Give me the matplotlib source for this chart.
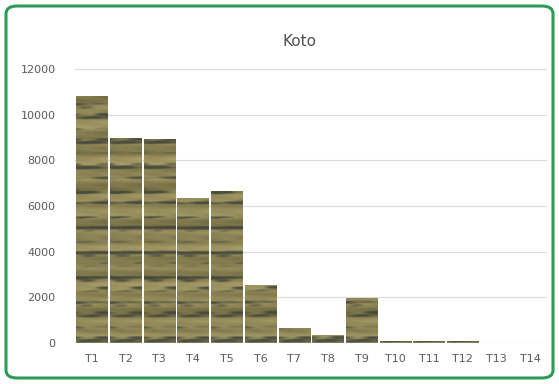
import numpy as np
import matplotlib
matplotlib.use("Agg")
import matplotlib.pyplot as plt
from matplotlib.patches import FancyBboxPatch

# данные с графика
categories = ["T1", "T2", "T3", "T4", "T5", "T6", "T7", "T8", "T9",
              "T10", "T11", "T12", "T13", "T14"]
values = [10800, 9000, 8950, 6350, 6650, 2550, 650, 330, 1950,
          100, 100, 100, 0, 0]
y_ticks = [0, 2000, 4000, 6000, 8000, 10000, 12000]

fig = plt.figure(figsize=(5.59, 3.84), dpi=100)
ax = fig.add_axes([75 / 559, 1 - 343 / 384, 472 / 559, 274 / 384])

x = np.arange(len(categories))
bars = ax.bar(x, values, width=0.92, color="#8e8758", edgecolor="none", zorder=2)

# текстура "дерево" - почти горизонтальные полосы
yy = np.linspace(0, 1, 600)[:, None]
xx = np.linspace(0, 1, 80)[None, :]
base = (np.sin(yy * 97 + np.sin(xx * 4) * 0.4) * 0.45
        + np.sin(yy * 41 + np.cos(xx * 3) * 0.35) * 0.35
        + np.sin(yy * 233 + xx * 2.5) * 0.2)
streak = (np.sin(yy * 139 + np.sin(xx * 5) * 0.5) * 0.5
          + np.sin(yy * 61 + xx * 1.2) * 0.3
          + np.sin(yy * 347 + np.cos(xx * 7) * 0.6) * 0.2)
streak = np.clip((streak - 0.25) * 2.2, 0, 1)
t = np.clip((base + 1) / 2, 0, 1)
light = np.array([178, 166, 112]) / 255
mid = np.array([138, 130, 84]) / 255
dark = np.array([62, 66, 56]) / 255
rgb = mid + (light - mid) * (t[..., None] - 0.45) * 1.4
rgb = rgb * (1 - 0.85 * streak[..., None]) + dark * 0.85 * streak[..., None]
rgb = np.clip(rgb, 0, 1)
for b in bars:
    h = b.get_height()
    if h <= 0:
        continue
    x0 = b.get_x()
    im = ax.imshow(rgb, extent=[x0, x0 + b.get_width(), 0, 12000],
                   aspect="auto", origin="lower", zorder=3, interpolation="bilinear")
    im.set_clip_path(b)

ax.set_xlim(-0.5, len(categories) - 0.5)
ax.set_ylim(0, 12000)
ax.set_yticks(y_ticks)
ax.set_yticklabels([str(v) for v in y_ticks])
ax.set_xticks(x)
ax.set_xticklabels(categories)
ax.tick_params(axis="both", length=0, labelsize=8, colors="#5a5a5a")
ax.tick_params(axis="y", pad=14)
ax.tick_params(axis="x", pad=8)
ax.grid(axis="y", color="#dadada", linewidth=0.8, zorder=0)
for s in ax.spines.values():
    s.set_visible(False)
ax.axhline(0, color="#cfcfcf", linewidth=0.8, zorder=1)

fig.text(300 / 559, 1 - 42 / 384, "Koto", ha="center", va="center",
         fontsize=11, color="#505050")

# зелёная рамка
frame = FancyBboxPatch((6 / 559, 6 / 384), 547 / 559, 372 / 384,
                       boxstyle="round,pad=0,rounding_size=0.02",
                       transform=fig.transFigure, fill=False,
                       edgecolor="#2e9a55", linewidth=2.2)
fig.patches.append(frame)

fig.savefig("out.png", dpi=100)
